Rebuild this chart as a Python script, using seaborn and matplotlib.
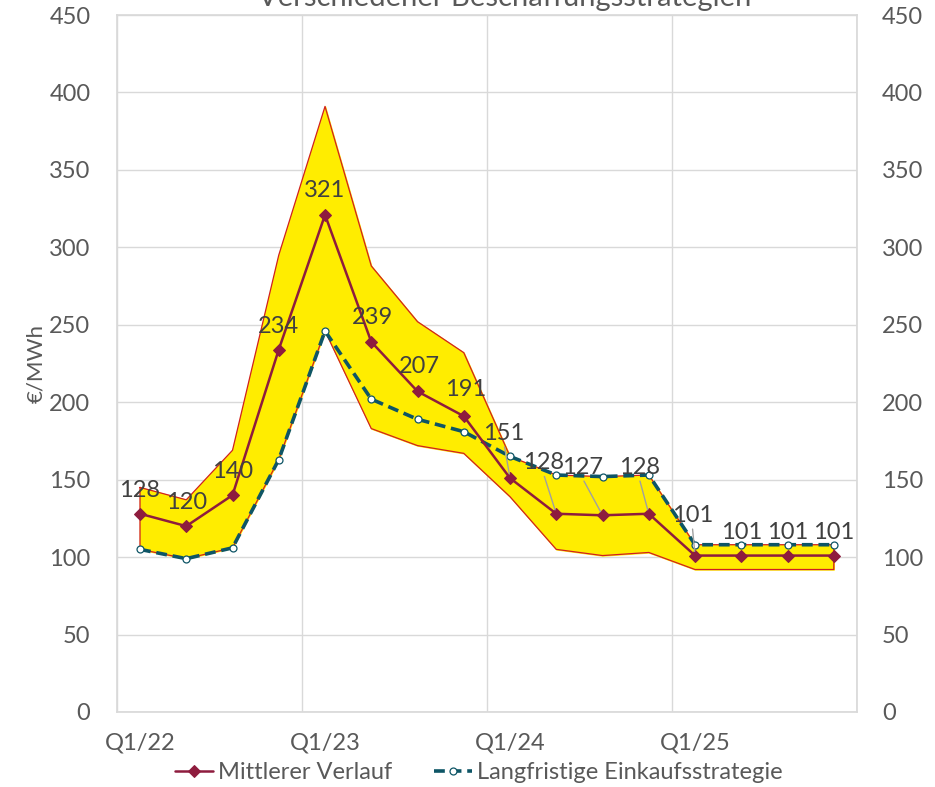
import matplotlib
matplotlib.use("Agg")
import matplotlib.pyplot as plt
import numpy as np
import pandas as pd
import seaborn as sns

QUARTERS = [f"Q{q}/{y}" for y in (22, 23, 24, 25) for q in (1, 2, 3, 4)]
MEAN = [128, 120, 140, 234, 321, 239, 207, 191, 151, 128, 127, 128, 101, 101, 101, 101]
LONG_TERM = [105, 99, 106, 163, 246, 202, 189, 181, 165, 153, 152, 153, 108, 108, 108, 108]
BAND_UPPER = [145, 137, 169, 295, 391, 288, 252, 232, 165, 153, 152, 153, 108, 108, 108, 108]
BAND_LOWER = [105, 99, 106, 163, 246, 183, 172, 167, 139, 105, 101, 103, 92, 92, 92, 92]
Y_TICKS = [0, 50, 100, 150, 200, 250, 300, 350, 400, 450]
X_TICK_LABELS = ["Q1/22", "Q1/23", "Q1/24", "Q1/25"]

# label placement (x, y in data units) for the data labels of the mean series
LABEL_POS = [(0, 143), (1, 135), (2, 155), (3, 249), (4, 337), (5.03, 255), (6.05, 223),
             (7.03, 208), (7.87, 180), (8.72, 161), (9.56, 158), (10.79, 158),
             (11.94, 127), (13, 116), (14, 116), (15, 116)]
LEADER = {8, 9, 10, 11, 12}

TEXT = "#595959"
GRID = "#D9D9D9"
MAROON = "#8E1C3E"
TEAL = "#0E5566"
YELLOW = "#FFED00"
RED_EDGE = "#D02020"

sns.set_theme(style="white")
plt.rcParams["font.family"] = ["Lato", "DejaVu Sans"]

df = pd.DataFrame({
    "x": np.arange(len(QUARTERS)),
    "quarter": QUARTERS,
    "mean": MEAN,
    "long": LONG_TERM,
    "upper": BAND_UPPER,
    "lower": BAND_LOWER,
})

fig = plt.figure(figsize=(9.35, 7.87), dpi=100)
ax = fig.add_axes([0.125, 0.0953, 0.7915, 0.8856])

ax.fill_between(df["x"], df["lower"], df["upper"], color=YELLOW, zorder=1)
ax.plot(np.r_[df["x"], df["x"][::-1], df["x"][:1]],
        np.r_[df["upper"], df["lower"][::-1], df["upper"][:1]],
        color=RED_EDGE, lw=0.9, zorder=2)

sns.lineplot(data=df, x="x", y="long", ax=ax, color=TEAL, lw=2.6,
             linestyle=(0, (3, 1.6)), marker="o", markersize=5,
             markerfacecolor="white", markeredgecolor=TEAL, markeredgewidth=0.9,
             label="Langfristige Einkaufsstrategie", zorder=3)
sns.lineplot(data=df, x="x", y="mean", ax=ax, color=MAROON, lw=1.8,
             marker="D", markersize=6, markeredgecolor=MAROON,
             label="Mittlerer Verlauf", zorder=4)

for i, (val, (lx, ly)) in enumerate(zip(MEAN, LABEL_POS)):
    if i in LEADER:
        ax.annotate(str(val), xy=(i, val), xytext=(lx, ly), ha="center", va="center",
                    fontsize=17, color="#404040", zorder=5,
                    arrowprops=dict(arrowstyle="-", color="#A0A0A0", lw=1.0,
                                    relpos=(0.5, 0), shrinkA=0, shrinkB=3))
    else:
        ax.text(lx, ly, str(val), ha="center", va="center", fontsize=17,
                color="#404040", zorder=5)

ax.set_xlim(-0.5, 15.5)
ax.set_ylim(0, 450)
ax.set_xticks([0, 4, 8, 12])
ax.set_xticklabels(X_TICK_LABELS)
ax.set_xticks([-0.5, 3.5, 7.5, 11.5, 15.5], minor=True)
ax.set_yticks(Y_TICKS)
ax.grid(axis="y", color=GRID, lw=1)
ax.grid(axis="x", which="minor", color=GRID, lw=1)
ax.tick_params(axis="x", which="both", length=0, pad=15, labelsize=17, colors=TEXT)
ax.tick_params(axis="y", length=0, pad=19, labelsize=17, colors=TEXT)
ax.set_xlabel("")
ax.set_ylabel("€/MWh", fontsize=16, color=TEXT, labelpad=2)
for s in ax.spines.values():
    s.set_color(GRID)

ax2 = ax.twinx()
ax2.set_ylim(0, 450)
ax2.set_yticks(Y_TICKS)
ax2.tick_params(axis="y", length=0, pad=18, labelsize=17, colors=TEXT)
for s in ax2.spines.values():
    s.set_visible(False)

handles, labels = ax.get_legend_handles_labels()
ax.legend_.remove()
fig.legend(handles[::-1], labels[::-1], loc="center", bbox_to_anchor=(0.512, 0.018),
           ncol=2, frameon=False, fontsize=17, handlelength=1.6, handletextpad=0.2,
           columnspacing=1.8, labelcolor=TEXT)

fig.text(0.54, 1 - 6 / 787, "Verschiedener Beschaffungsstrategien", ha="center",
         va="baseline", fontsize=21, color=TEXT)

fig.savefig("out.png", dpi=100)
